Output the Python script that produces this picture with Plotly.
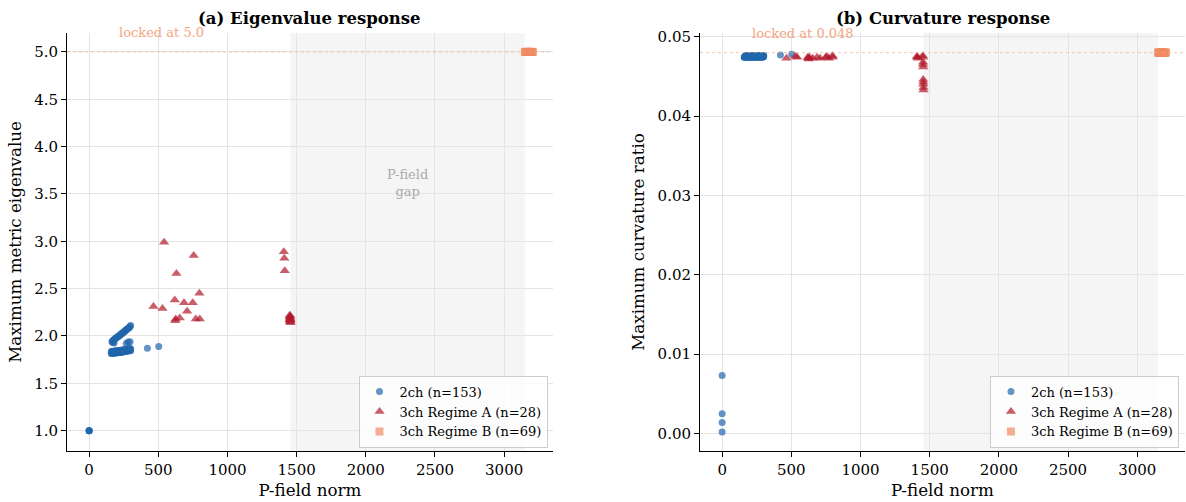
import plotly.graph_objects as go

# ---------------- data ----------------
# 2ch (n=153): zero-field points, upper diagonal band, lower band, middle points, isolated
ch2_zero_x = [0, 0, 0, 0]
ch2_zero_eig = [1.0, 1.0, 1.0, 1.0]
ch2_zero_curv = [0.0073, 0.0025, 0.0014, 0.0002]

ch2_up_x = [165, 170, 176, 181, 186, 192, 197, 203, 208, 214, 219, 225, 230,
            236, 241, 247, 252, 258, 263, 269, 274, 280, 285, 291, 296, 300]
ch2_up_eig = [1.94, 1.95, 1.955, 1.96, 1.97, 1.975, 1.98, 1.99, 1.995, 2.0, 2.005, 2.01, 2.02,
              2.025, 2.03, 2.04, 2.045, 2.05, 2.06, 2.065, 2.07, 2.08, 2.085, 2.09, 2.10, 2.11]
ch2_up_curv = [0.0475, 0.0474, 0.0475, 0.0476, 0.0475, 0.0474, 0.0475, 0.0476, 0.0475, 0.0474, 0.0475, 0.0476, 0.0475,
               0.0474, 0.0475, 0.0476, 0.0475, 0.0474, 0.0475, 0.0476, 0.0475, 0.0474, 0.0475, 0.0476, 0.0475, 0.0475]

ch2_lo_x = [160, 165, 170, 176, 181, 186, 192, 197, 203, 208, 214, 219, 225, 230,
            236, 241, 247, 252, 258, 263, 269, 274, 280, 285, 291, 296, 300]
ch2_lo_eig_a = [1.815, 1.816, 1.817, 1.818, 1.819, 1.82, 1.821, 1.822, 1.823, 1.824, 1.825, 1.826, 1.827, 1.828,
                1.829, 1.83, 1.832, 1.834, 1.836, 1.838, 1.84, 1.841, 1.842, 1.843, 1.844, 1.845, 1.846]
ch2_lo_eig_b = [1.835, 1.836, 1.837, 1.838, 1.839, 1.84, 1.841, 1.842, 1.843, 1.844, 1.845, 1.846, 1.847, 1.848,
                1.849, 1.85, 1.852, 1.854, 1.856, 1.858, 1.86, 1.861, 1.862, 1.863, 1.864, 1.865, 1.866]
ch2_lo_curv = [0.0474, 0.0475, 0.0476, 0.0475, 0.0474, 0.0475, 0.0476, 0.0475, 0.0474, 0.0475, 0.0476, 0.0475, 0.0474, 0.0475,
               0.0476, 0.0475, 0.0474, 0.0475, 0.0476, 0.0475, 0.0474, 0.0475, 0.0476, 0.0475, 0.0474, 0.0475, 0.0476]

ch2_mid_x = [172, 180, 268, 282, 296, 421, 503]
ch2_mid_eig = [1.93, 1.925, 1.92, 1.935, 1.94, 1.87, 1.89]
ch2_mid_curv = [0.0475, 0.0474, 0.0475, 0.0476, 0.0475, 0.0477, 0.0478]

# 3ch Regime A (n=28)
regA_x = [465, 530, 542, 619, 622, 626, 631, 655, 686, 708, 749, 756, 771, 797, 800,
          1407, 1411, 1414,
          1450, 1451, 1452, 1452, 1453, 1453, 1454, 1454, 1455, 1455]
regA_eig = [2.31, 2.29, 2.99, 2.38, 2.16, 2.18, 2.66, 2.19, 2.35, 2.26, 2.35, 2.85, 2.18, 2.45, 2.18,
            2.89, 2.82, 2.69,
            2.22, 2.20, 2.19, 2.18, 2.17, 2.16, 2.15, 2.21, 2.14, 2.17]
regA_curv = [0.0473, 0.0475, 0.0474, 0.0474, 0.0473, 0.0472, 0.0474, 0.0473, 0.0474, 0.0473, 0.0474, 0.0475, 0.0473, 0.0476, 0.0474,
             0.0475, 0.0474, 0.0473,
             0.0476, 0.0474, 0.0468, 0.0465, 0.0462, 0.0446, 0.0443, 0.0440, 0.0436, 0.0433]

# 3ch Regime B (n=69), locked values
regB_x = [3150, 3155, 3160, 3163, 3167, 3170, 3174, 3178, 3181, 3185, 3189, 3193, 3197, 3202, 3208]
regB_eig = [5.0, 5.0, 5.0, 5.0, 5.0, 5.0, 5.0, 5.0, 5.0, 5.0, 5.0, 5.0, 5.0, 5.0, 5.0]
regB_curv = [0.048, 0.048, 0.048, 0.048, 0.048, 0.048, 0.048, 0.048, 0.048, 0.048, 0.048, 0.048, 0.048, 0.048, 0.048]

lock_eig = 5.0
lock_curv = 0.048

labels = ["2ch (n=153)", "3ch Regime A (n=28)", "3ch Regime B (n=69)"]
titles = ["(a) Eigenvalue response", "(b) Curvature response"]
ylabels = ["Maximum metric eigenvalue", "Maximum curvature ratio"]

ch2_x = ch2_zero_x + ch2_up_x + ch2_lo_x + ch2_lo_x + ch2_mid_x
ch2_eig = ch2_zero_eig + ch2_up_eig + ch2_lo_eig_a + ch2_lo_eig_b + ch2_mid_eig
ch2_curv = ch2_zero_curv + ch2_up_curv + ch2_lo_curv + ch2_lo_curv + ch2_mid_curv

# ---------------- styling ----------------
BLUE = "#2166ac"
RED = "#b2182b"
ORANGE = "#ef8a62"
LOCK = "#f4a582"
FONT = "DejaVu Serif"

fig = go.Figure()

panels = [
    ("x", "y", "legend", ch2_eig, regA_eig, regB_eig),
    ("x2", "y2", "legend2", ch2_curv, regA_curv, regB_curv),
]
for xa, ya, lg, c2, ca, cb in panels:
    fig.add_trace(go.Scatter(x=ch2_x, y=c2, mode="markers", name=labels[0],
                             xaxis=xa, yaxis=ya, legend=lg,
                             marker=dict(color=BLUE, size=7, opacity=0.7, line=dict(width=0))))
    fig.add_trace(go.Scatter(x=regA_x, y=ca, mode="markers", name=labels[1],
                             xaxis=xa, yaxis=ya, legend=lg,
                             marker=dict(color=RED, size=9, symbol="triangle-up", opacity=0.7,
                                         line=dict(width=0))))
    fig.add_trace(go.Scatter(x=regB_x, y=cb, mode="markers", name=labels[2],
                             xaxis=xa, yaxis=ya, legend=lg,
                             marker=dict(color=ORANGE, size=8, symbol="square", opacity=0.7,
                                         line=dict(width=0))))

gap_x0 = max(regA_x)
gap_x1 = min(regB_x)

shapes = []
annotations = []
for i, (xr, yr, lock, lock_txt) in enumerate([("x", "y", lock_eig, "locked at 5.0"),
                                               ("x2", "y2", lock_curv, "locked at 0.048")]):
    shapes.append(dict(type="rect", xref=xr, yref=yr + " domain", x0=gap_x0, x1=gap_x1, y0=0, y1=1,
                       fillcolor="#f5f5f5", line=dict(width=0), layer="below"))
    shapes.append(dict(type="line", xref=xr + " domain", yref=yr, x0=0, x1=1, y0=lock, y1=lock,
                       line=dict(color=LOCK, width=1, dash="dot"), opacity=0.6))
    annotations.append(dict(x=200, y=lock, xref=xr, yref=yr, text=lock_txt, showarrow=False,
                            xanchor="left", yanchor="bottom", yshift=10,
                            font=dict(family=FONT, size=13, color=LOCK)))
    annotations.append(dict(x=0.5, y=1, xref=xr + " domain", yref=yr + " domain", text="<b>" + titles[i] + "</b>",
                            showarrow=False, xanchor="center", yanchor="bottom", yshift=3,
                            font=dict(family=FONT, size=16.5, color="black")))

annotations.append(dict(x=(gap_x0 + gap_x1) / 2, y=3.62, xref="x", yref="y", text="P-field<br>gap",
                        showarrow=False, xanchor="center", yanchor="middle",
                        font=dict(family=FONT, size=13, color="#aaaaaa")))

axis_common = dict(showline=True, linecolor="black", linewidth=1, ticks="outside", ticklen=5,
                   tickcolor="black", tickwidth=1, showgrid=True, gridcolor="#e4e4e4", gridwidth=1,
                   zeroline=False, tickfont=dict(family=FONT, size=15, color="black"), mirror=False,
                   automargin=False)

xticks = [0, 500, 1000, 1500, 2000, 2500, 3000]
fig.update_layout(
    width=1186, height=502,
    margin=dict(l=67, r=1, t=33, b=51),
    paper_bgcolor="white", plot_bgcolor="white",
    font=dict(family=FONT, color="black"),
    xaxis=dict(domain=[0, 0.4347], range=[-160, 3353], tickvals=xticks, anchor="y",
               title=dict(text="P-field norm", font=dict(family=FONT, size=16.7), standoff=6),
               **axis_common),
    yaxis=dict(range=[0.785, 5.2], dtick=0.5, tickformat=".1f", anchor="x",
               title=dict(text=ylabels[0], font=dict(family=FONT, size=16.7), standoff=8),
               **axis_common),
    xaxis2=dict(domain=[0.5662, 1.0], range=[-160, 3345], tickvals=xticks, anchor="y2",
                title=dict(text="P-field norm", font=dict(family=FONT, size=16.7), standoff=6),
                **axis_common),
    yaxis2=dict(range=[-0.0022, 0.05047], dtick=0.01, tickformat=".2f", anchor="x2",
                title=dict(text=ylabels[1], font=dict(family=FONT, size=16.7), standoff=8),
                **axis_common),
    legend=dict(x=0.4298, y=0.008, xanchor="right", yanchor="bottom",
                bgcolor="rgba(255,255,255,0.8)", bordercolor="#cccccc", borderwidth=1,
                font=dict(family=FONT, size=13), tracegroupgap=0),
    legend2=dict(x=0.9946, y=0.008, xanchor="right", yanchor="bottom",
                 bgcolor="rgba(255,255,255,0.8)", bordercolor="#cccccc", borderwidth=1,
                 font=dict(family=FONT, size=13), tracegroupgap=0),
    shapes=shapes,
    annotations=annotations,
    showlegend=True,
)

fig.write_html("out.html", config={"displayModeBar": False},
               post_script="document.body.style.margin='0px';document.body.style.padding='0px';")
